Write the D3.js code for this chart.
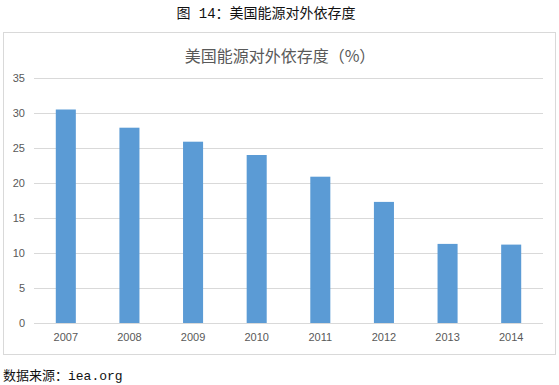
<!DOCTYPE html>
<html>
<head>
<meta charset="utf-8">
<script src="https://cdn.jsdelivr.net/npm/d3@7"></script>
<style>
  body { margin: 0; background: #fff; }
  svg { display: block; }
</style>
</head>
<body>
<script>
const years = ["2007", "2008", "2009", "2010", "2011", "2012", "2013", "2014"];
const dependence = [30.5, 27.9, 25.9, 24.0, 20.9, 17.3, 11.3, 11.2];
const yTicks = [0, 5, 10, 15, 20, 25, 30, 35];

const width = 559;
const height = 385;
const marginTop = 78;
const marginRight = 16;
const marginBottom = 62;
const marginLeft = 34;
const cjk = "'Noto Sans CJK SC', 'Microsoft YaHei', sans-serif";
const monoCjk = "'Liberation Mono', 'Noto Sans CJK SC', monospace";

var svg = d3.select("body").append("svg")
  .attr("width", width)
  .attr("height", height);

// figure caption
svg.append("text")
  .text("图 14：美国能源对外依存度")
  .attr("x", 266)
  .attr("y", 18)
  .attr("text-anchor", "middle")
  .attr("font-family", monoCjk)
  .attr("font-size", "14px")
  .attr("fill", "#111");

// chart frame
svg.append("rect")
  .attr("x", 3.5)
  .attr("y", 32.5)
  .attr("width", 552)
  .attr("height", 322)
  .attr("fill", "#fff")
  .attr("stroke", "#d9d9d9");

svg.append("text")
  .text("美国能源对外依存度（%）")
  .attr("x", 280)
  .attr("y", 62)
  .attr("text-anchor", "middle")
  .attr("font-family", cjk)
  .attr("font-size", "16px")
  .attr("fill", "#595959");

const x = d3.scaleBand()
  .domain(years)
  .range([marginLeft, width - marginRight])
  .paddingInner(0.685)
  .paddingOuter(0.3425);

const y = d3.scaleLinear()
  .domain([0, 35])
  .range([height - marginBottom, marginTop]);

// gridlines
svg.append("g")
  .selectAll("line")
  .data(yTicks)
  .join("line")
    .attr("x1", marginLeft)
    .attr("x2", width - marginRight)
    .attr("y1", d => Math.round(y(d)) + 0.5)
    .attr("y2", d => Math.round(y(d)) + 0.5)
    .attr("stroke", "#d9d9d9");

svg.append("g")
  .selectAll("rect")
  .data(dependence)
  .join("rect")
    .attr("x", (d, i) => x(years[i]))
    .attr("width", x.bandwidth())
    .attr("y", d => y(d))
    .attr("height", d => y(0) - y(d))
    .attr("fill", "#5b9bd5");

// y axis labels
const yAxis = svg.append("g")
  .attr("transform", `translate(${marginLeft - 9},0)`)
  .call(d3.axisLeft(y).tickValues(yTicks).tickSize(0).tickPadding(0));
yAxis.select(".domain").remove();
yAxis.selectAll("text")
  .attr("font-family", "'Liberation Sans', Arial, sans-serif")
  .attr("font-size", "11px")
  .attr("fill", "#595959");

// x axis labels
const xAxis = svg.append("g")
  .attr("transform", `translate(0,${height - marginBottom})`)
  .call(d3.axisBottom(x).tickSize(0).tickPadding(10));
xAxis.select(".domain").remove();
xAxis.selectAll("text")
  .attr("font-family", "'Liberation Sans', Arial, sans-serif")
  .attr("font-size", "11px")
  .attr("fill", "#595959");

svg.append("text")
  .text("数据来源：iea.org")
  .attr("x", 3)
  .attr("y", 380)
  .attr("font-family", monoCjk)
  .attr("font-size", "13px")
  .attr("fill", "#111");
</script>
</body>
</html>
